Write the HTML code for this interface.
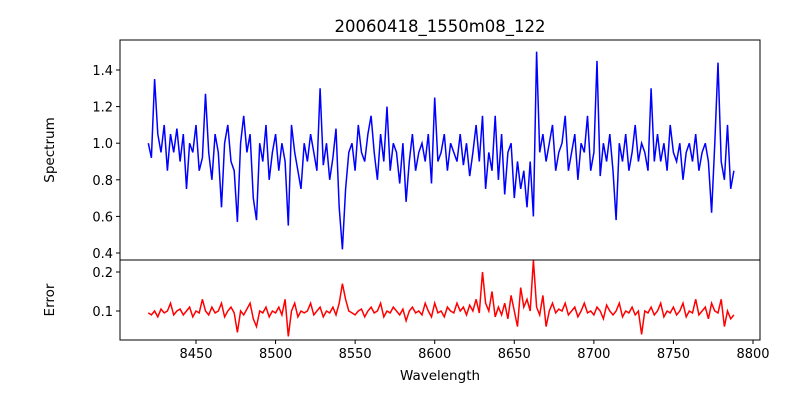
<!DOCTYPE html>
<html><head><meta charset="utf-8"><style>
body{margin:0;background:#fff}
svg{display:block;font-family:"DejaVu Sans","Liberation Sans",sans-serif}
</style></head><body>
<svg id="chart" width="800" height="400" xmlns="http://www.w3.org/2000/svg">
<text x="440" y="32" text-anchor="middle" font-size="16.5">20060418_1550m08_122</text>
<text x="440" y="380" text-anchor="middle" font-size="13.5">Wavelength</text>
<text transform="translate(54,150) rotate(-90)" text-anchor="middle" font-size="13.5">Spectrum</text>
<text transform="translate(54,300) rotate(-90)" text-anchor="middle" font-size="13.5">Error</text>
<g id="g"></g>
</svg>
<script>
const startWave = 8420, stepWave = 2;
const xTicks = [8450,8500,8550,8600,8650,8700,8750,8800];
const specTicks = [0.4,0.6,0.8,1.0,1.2,1.4];
const errTicks = [0.1,0.2];
const spectrum = [
1.0,0.92,1.35,1.05,0.95,1.1,0.85,1.05,0.95,1.08,
0.9,1.05,0.75,1.0,0.95,1.1,0.85,0.92,1.27,0.95,
0.8,1.05,0.95,0.65,1.0,1.1,0.9,0.85,0.57,1.0,
1.15,0.95,1.05,0.7,0.58,1.0,0.9,1.1,0.8,0.95,
1.05,0.85,1.0,0.9,0.55,1.1,0.95,0.85,0.75,1.0,
0.9,1.05,0.95,0.85,1.3,0.88,1.0,0.8,0.92,1.08,
0.65,0.42,0.75,0.95,1.0,0.85,1.1,0.95,0.9,1.05,
1.15,0.95,0.8,1.05,0.9,1.2,0.85,1.0,0.95,0.78,
1.0,0.68,0.9,1.05,0.85,0.95,1.0,0.9,1.05,0.78,
1.25,0.9,0.95,1.05,0.85,1.0,0.95,0.9,1.05,0.88,
1.0,0.82,0.95,1.1,0.9,1.15,0.75,0.95,0.85,1.15,
0.8,1.05,0.72,0.95,1.0,0.7,0.9,0.75,0.85,0.65,
0.9,0.6,1.5,0.95,1.05,0.9,1.0,1.1,0.85,0.95,
1.0,1.15,0.85,0.95,1.05,0.8,1.0,0.95,1.15,0.85,
0.95,1.45,0.82,1.0,0.9,1.05,0.85,0.58,1.0,0.9,
1.05,0.85,0.95,1.1,0.9,1.0,0.95,0.85,1.3,0.9,
1.05,0.9,1.0,0.85,1.1,0.95,0.9,1.0,0.8,0.95,
1.0,0.9,1.05,0.85,0.95,1.0,0.9,0.62,1.0,1.44,
0.9,0.8,1.1,0.75,0.85];
const errors = [
.095,.09,.1,.085,.105,.095,.1,.12,.09,.1,
.105,.09,.1,.11,.085,.1,.095,.13,.1,.09,
.11,.095,.1,.12,.085,.1,.11,.095,.045,.1,
.09,.105,.12,.08,.06,.1,.095,.11,.085,.1,
.095,.11,.09,.13,.035,.1,.12,.085,.1,.095,
.1,.12,.09,.1,.11,.085,.1,.095,.11,.09,
.12,.17,.13,.1,.095,.09,.1,.105,.085,.1,
.11,.095,.1,.12,.085,.1,.095,.11,.1,.09,
.105,.075,.1,.11,.095,.1,.09,.12,.1,.085,
.12,.095,.1,.085,.11,.1,.095,.12,.1,.11,
.09,.115,.1,.13,.095,.2,.12,.1,.15,.085,
.11,.09,.12,.08,.14,.1,.06,.16,.11,.13,
.1,.23,.11,.09,.14,.06,.1,.12,.095,.105,
.1,.12,.09,.1,.11,.085,.1,.12,.095,.1,
.09,.11,.1,.08,.115,.1,.09,.1,.12,.085,
.1,.095,.11,.09,.1,.04,.1,.095,.11,.09,
.1,.12,.085,.1,.095,.11,.09,.1,.12,.085,
.1,.095,.13,.09,.1,.11,.08,.12,.1,.095,
.13,.06,.1,.08,.09];

const NS="http://www.w3.org/2000/svg", g=document.getElementById('g');
const L=120,R=760,T1=40,B1=260,T2=260,B2=340;
const xs = w => 196 + (w-8450)*(753-196)/350;
const ys = v => 253 + (v-0.4)*(70-253)/1.0;
const ye = v => 311 + (v-0.1)*(272-311)/0.1;
function el(t,a){const e=document.createElementNS(NS,t);for(const k in a)e.setAttribute(k,a[k]);g.appendChild(e);return e;}

const p1=el('path',{d:spectrum.map((v,i)=>(i?'L':'M')+xs(startWave+i*stepWave).toFixed(1)+','+ys(v).toFixed(1)).join(''),fill:'none',stroke:'#0000ff','stroke-width':1.5});


const p2=el('path',{d:errors.map((v,i)=>(i?'L':'M')+xs(startWave+i*stepWave).toFixed(1)+','+ye(v).toFixed(1)).join(''),fill:'none',stroke:'#ff0000','stroke-width':1.5});



const f1=el('rect',{x:L,y:T1,width:R-L,height:B1-T1,fill:'none',stroke:'#000','stroke-width':1});


const f2=el('rect',{x:L,y:T2,width:R-L,height:B2-T2,fill:'none',stroke:'#000','stroke-width':1});



xTicks.forEach(t=>{const x=xs(t);
 el('line',{x1:x,x2:x,y1:B2,y2:B2+4,stroke:'#000'});
 const tx=el('text',{x:x,y:B2+18,'text-anchor':'middle','font-size':13});
 tx.textContent=t;
 
 
});
specTicks.forEach(t=>{const y=ys(t);
 el('line',{x1:L-4,x2:L,y1:y,y2:y,stroke:'#000'});
 const tx=el('text',{x:L-7,y:y+5,'text-anchor':'end','font-size':13});
 tx.textContent=t.toFixed(1);
 
 
});
errTicks.forEach(t=>{const y=ye(t);
 el('line',{x1:L-4,x2:L,y1:y,y2:y,stroke:'#000'});
 const tx=el('text',{x:L-7,y:y+5,'text-anchor':'end','font-size':13});
 tx.textContent=t.toFixed(1);
 
 
});
</script>
</body></html>
